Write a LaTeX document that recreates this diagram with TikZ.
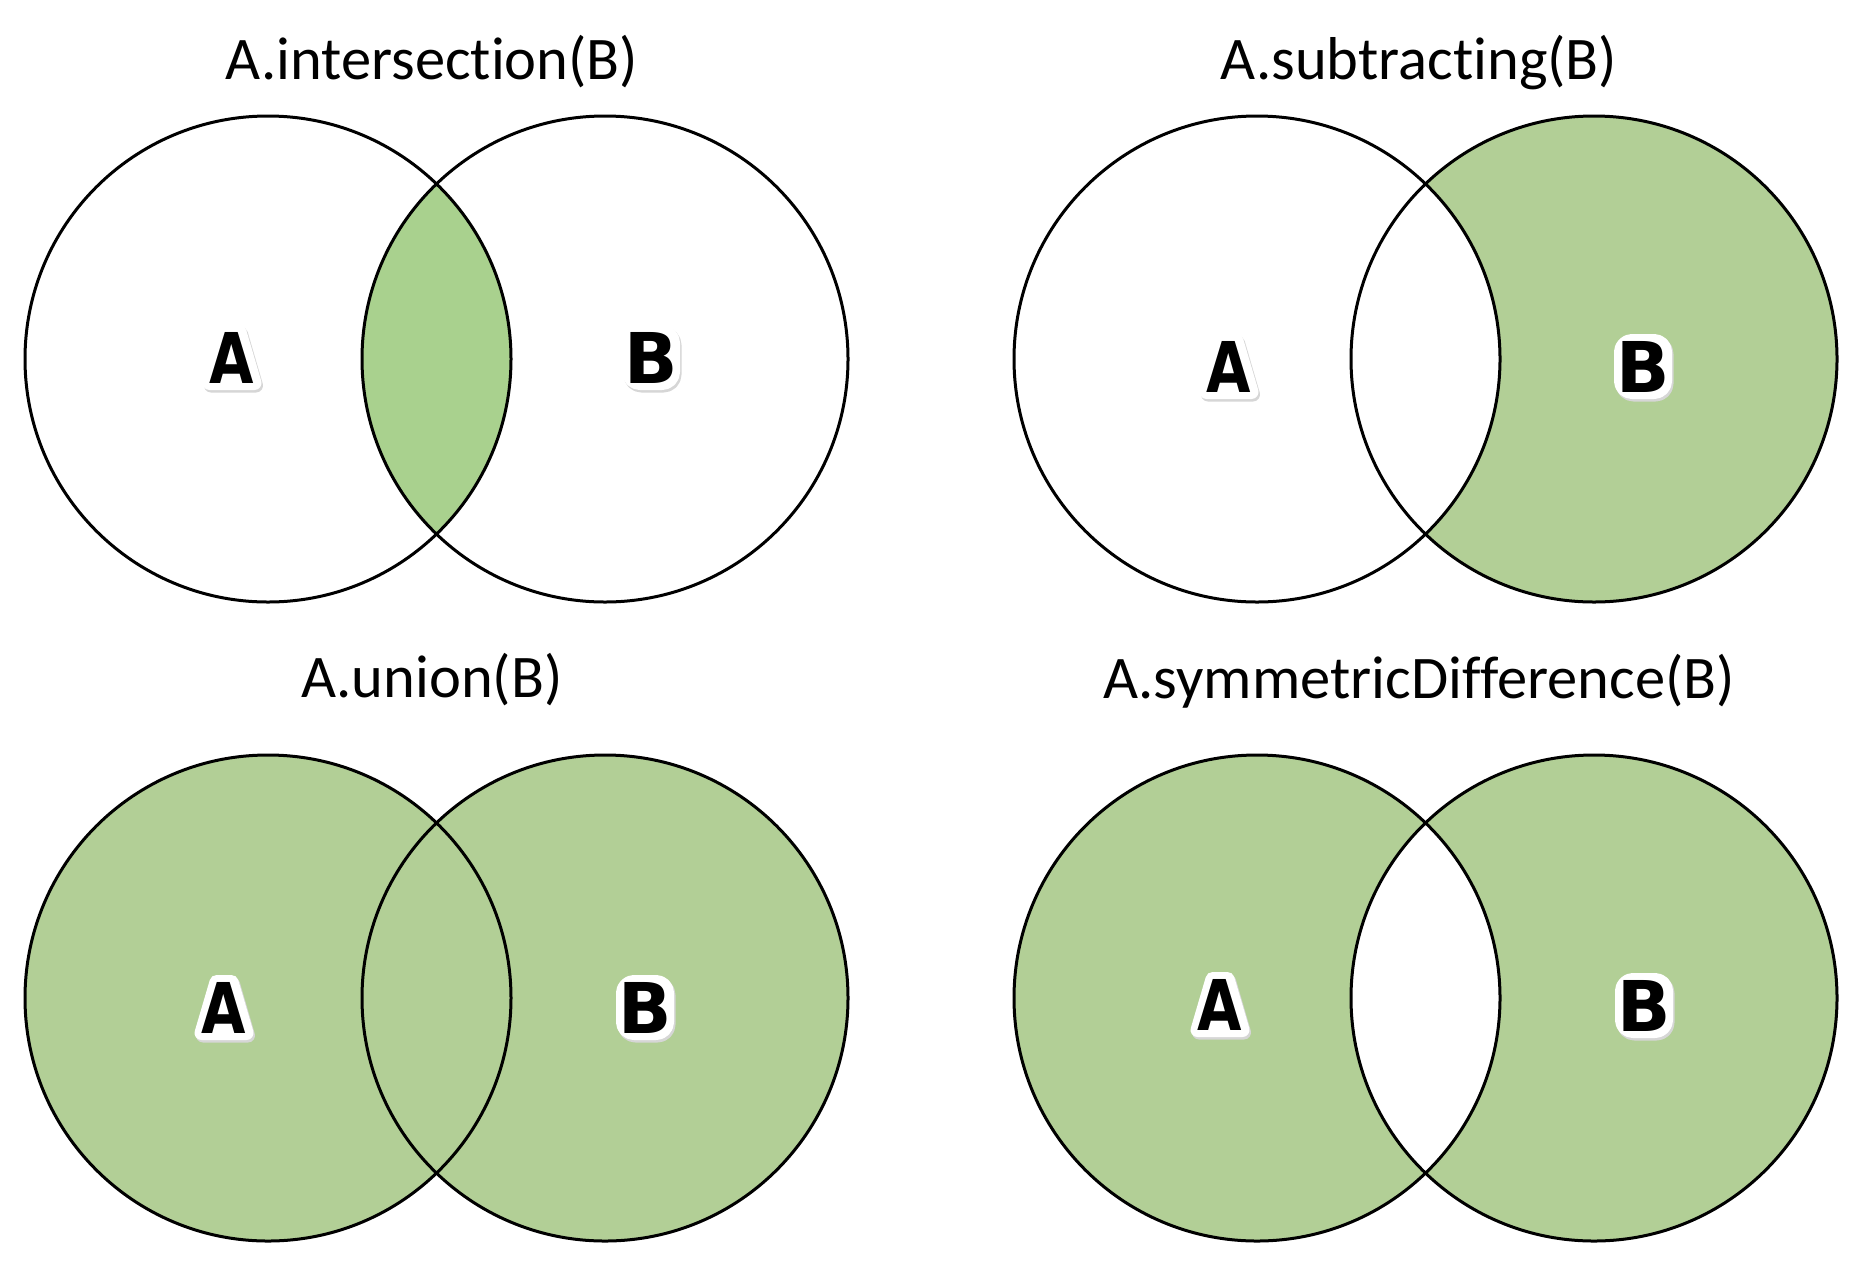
\documentclass[tikz,border=0pt]{standalone}
\usepackage{fontspec}
\usepackage{graphicx}
\newfontfamily\titlefont{Carlito}[Ligatures=NoCommon]
\newfontfamily\letfont{DejaVu Sans}
\definecolor{greenA}{HTML}{A9D18E}
\definecolor{greenB}{HTML}{B2CF96}
\tikzset{
  ring/.style={draw=black, line width=3pt},
  ttl/.style={font=\titlefont\fontsize{60.5}{64}\selectfont, anchor=base, inner sep=0pt},
  lbl/.style={font=\letfont\bfseries\fontsize{70}{74}\selectfont, anchor=base, inner sep=0pt},
  halo/.style={fill=white, draw=white, line width=14pt, line join=round},
  haloshadow/.style={fill=black!16, draw=black!16, line width=14pt, line join=round},
}
% white halo behind a letter A, base point (#1,#2)
\newcommand{\haloA}[2]{%
  \begin{scope}[shift={(#1,#2)}]
    \filldraw[haloshadow] (-21,2.5) -- (-6,-49) -- (9,-49) -- (24,2.5) -- cycle;
    \filldraw[halo] (-22.5,0) -- (-7.5,-51) -- (7.5,-51) -- (22.5,0) -- cycle;
  \end{scope}}
\newcommand{\haloB}[2]{%
  \begin{scope}[shift={(#1,#2)}]
    \filldraw[haloshadow, rounded corners=11pt] (-19.5,2.5) -- (-19.5,-49) -- (24.5,-49) -- (24.5,2.5) -- cycle;
    \filldraw[halo, rounded corners=11pt] (-21,0) -- (-21,-51) -- (23,-51) -- (23,0) -- cycle;
  \end{scope}}
\newcommand{\LA}{\scalebox{0.82}[1]{A}}
\begin{document}
\begin{tikzpicture}[x=1pt,y=-1pt]
\useasboundingbox (0,0) rectangle (1862,1264);
\fill[white] (0,0) rectangle (1862,1264);
% ---------- top left: intersection
\begin{scope}
  \clip (268,359) circle (243);
  \fill[greenA] (605,359) circle (243);
\end{scope}
\draw[ring] (268,359) circle (243);
\draw[ring] (605,359) circle (243);
\node[ttl] (t1) at (432,79) {A.intersection(B)};
\haloA{232}{383}\node[lbl] (a1) at (232,383) {\LA};
\haloB{650}{383}\node[lbl] (b1) at (651,383) {B};
% ---------- top right: subtracting
\fill[greenB] (1594,359) circle (243);
\fill[white] (1257,359) circle (243);
\draw[ring] (1257,359) circle (243);
\draw[ring] (1594,359) circle (243);
\node[ttl] (t2) at (1419,79) {A.subtracting(B)};
\haloA{1229}{392}\node[lbl] (a2) at (1229,392) {\LA};
\haloB{1642}{392}\node[lbl] (b2) at (1643,392) {B};
% ---------- bottom left: union
\fill[greenB] (268,998) circle (243);
\fill[greenB] (605,998) circle (243);
\draw[ring] (268,998) circle (243);
\draw[ring] (605,998) circle (243);
\node[ttl] (t3) at (432,697) {A.union(B)};
\haloA{224}{1033}\node[lbl] (a3) at (224,1033) {\LA};
\haloB{644}{1033}\node[lbl] (b3) at (645,1033) {B};
% ---------- bottom right: symmetric difference
\fill[greenB] (1257,998) circle (243);
\fill[greenB] (1594,998) circle (243);
\begin{scope}
  \clip (1257,998) circle (243);
  \fill[white] (1594,998) circle (243);
\end{scope}
\draw[ring] (1257,998) circle (243);
\draw[ring] (1594,998) circle (243);
\node[ttl] (t4) at (1419,698) {A.symmetricDifference(B)};
\haloA{1220}{1030}\node[lbl] (a4) at (1220,1030) {\LA};
\haloB{1643}{1031}\node[lbl] (b4) at (1644,1031) {B};
\end{tikzpicture}
\end{document}
